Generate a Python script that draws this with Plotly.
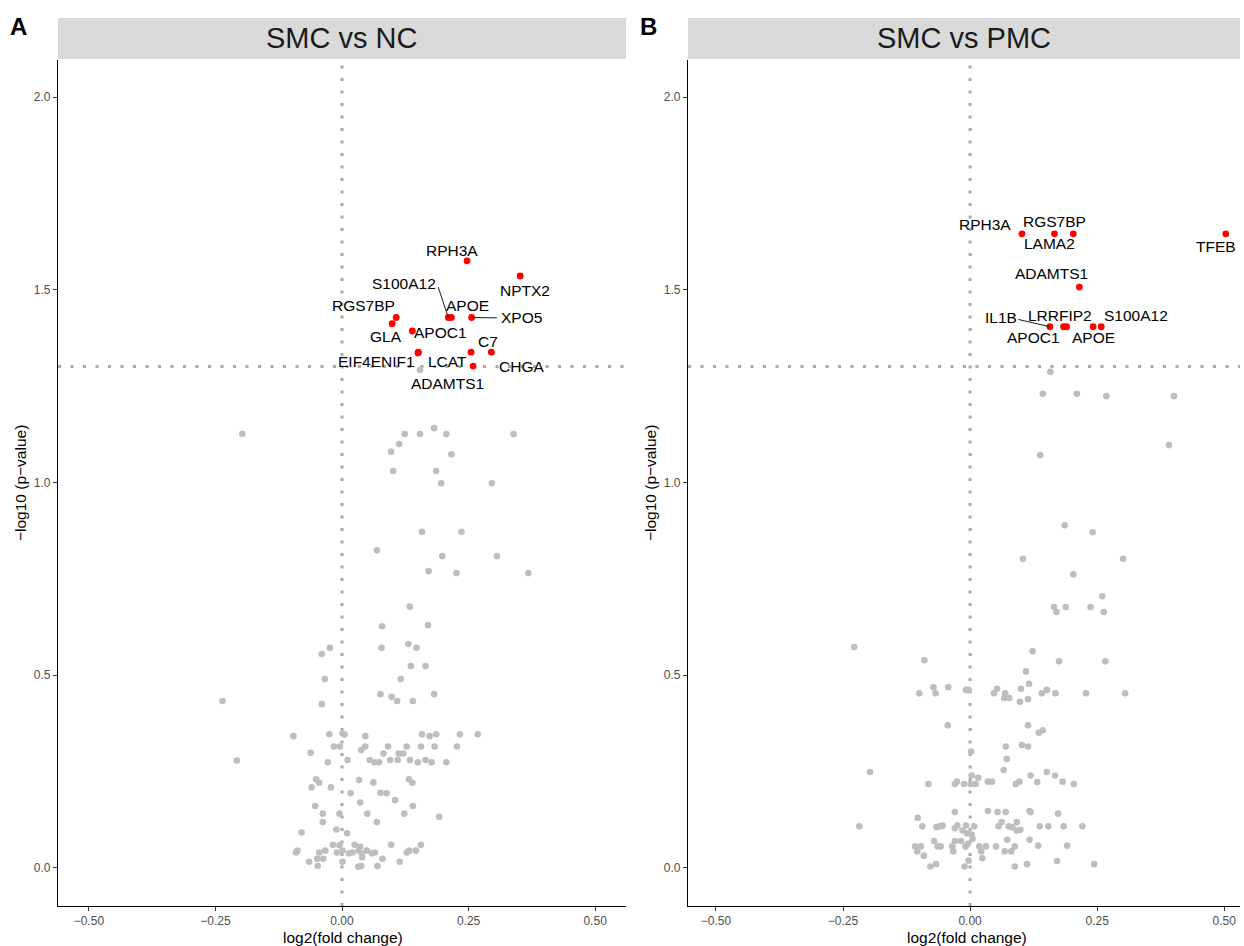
import math
import plotly.graph_objects as go

# ---------------- data ----------------
# Panel A: SMC vs NC -- non-significant genes (grey)
a_grey_x = [-0.197, 0.124, 0.154, 0.182, 0.206, 0.339, 0.113, 0.097, 0.216, 0.101, 0.186, 0.196, 0.296,
            0.158, 0.236, 0.069, 0.198, 0.306, 0.171, 0.226, 0.368, 0.134, 0.079, 0.170, -0.024, 0.078,
            0.131, 0.147, -0.040, 0.136, 0.165, -0.034, 0.116, -0.236, -0.040, 0.076, 0.098, 0.109, 0.140,
            0.182, -0.096, -0.025, 0.001, 0.005, 0.046, 0.158, 0.173, 0.186, 0.233, 0.268, -0.062, -0.016,
            -0.004, 0.038, 0.046, 0.082, 0.091, 0.112, 0.121, 0.128, 0.156, 0.183, 0.227, -0.208, -0.028,
            0.011, 0.055, 0.064, 0.073, 0.095, 0.110, 0.134, 0.150, 0.165, 0.177, 0.206, -0.051, -0.045,
            -0.060, -0.022, 0.034, 0.062, 0.132, 0.139, 0.017, 0.076, 0.088, 0.105, 0.036, -0.053, 0.140,
            -0.038, -0.005, 0.050, 0.123, 0.192, -0.038, 0.069, -0.080, -0.011, 0.010, -0.018, -0.005,
            0.025, 0.036, 0.097, 0.156, -0.091, -0.088, -0.045, -0.033, -0.010, 0.001, 0.014, 0.021,
            0.033, 0.039, 0.049, 0.059, 0.065, 0.128, 0.133, 0.146, -0.049, -0.037, 0.040, 0.080, -0.065,
            0.001, 0.114, -0.048, 0.032, 0.038, 0.070, 0.154]
a_grey_y = [1.126, 1.126, 1.126, 1.141, 1.126, 1.126, 1.100, 1.080, 1.073, 1.030, 1.030, 0.998, 0.998,
            0.872, 0.872, 0.824, 0.809, 0.809, 0.770, 0.765, 0.765, 0.678, 0.627, 0.630, 0.571, 0.571,
            0.581, 0.571, 0.555, 0.524, 0.524, 0.490, 0.490, 0.433, 0.425, 0.451, 0.444, 0.433, 0.433,
            0.451, 0.342, 0.347, 0.349, 0.346, 0.342, 0.347, 0.342, 0.347, 0.347, 0.347, 0.299, 0.315,
            0.315, 0.306, 0.315, 0.297, 0.315, 0.297, 0.297, 0.315, 0.315, 0.315, 0.315, 0.279, 0.274,
            0.280, 0.280, 0.274, 0.274, 0.280, 0.280, 0.280, 0.274, 0.280, 0.274, 0.274, 0.230, 0.221,
            0.209, 0.209, 0.228, 0.222, 0.230, 0.221, 0.194, 0.195, 0.194, 0.176, 0.170, 0.161, 0.161,
            0.141, 0.141, 0.141, 0.141, 0.133, 0.119, 0.119, 0.092, 0.100, 0.090, 0.060, 0.059,
            0.060, 0.055, 0.060, 0.060, 0.040, 0.045, 0.040, 0.045, 0.040, 0.045, 0.038, 0.040,
            0.045, 0.038, 0.045, 0.038, 0.040, 0.040, 0.045, 0.045, 0.024, 0.024, 0.028, 0.024, 0.016,
            0.016, 0.016, 0.005, 0.003, 0.005, 0.005, 1.292]

# Panel A: significant genes (red)
a_sig_genes = ["RPH3A", "NPTX2", "S100A12", "APOE", "XPO5", "RGS7BP", "GLA", "APOC1",
               "EIF4ENIF1", "LCAT", "C7", "CHGA", "ADAMTS1"]
a_sig_x = [0.247, 0.352, 0.210, 0.216, 0.256, 0.107, 0.099, 0.139, 0.151, 0.150, 0.255, 0.295, 0.259]
a_sig_y = [1.575, 1.536, 1.428, 1.428, 1.428, 1.428, 1.412, 1.393, 1.338, 1.336, 1.338, 1.338, 1.302]

# Panel B: SMC vs PMC -- non-significant genes (grey)
b_grey_x = [0.158, 0.143, 0.210, 0.268, 0.401, 0.391, 0.138, 0.186, 0.241, 0.104, 0.301, 0.203, 0.260,
            0.165, 0.188, 0.237, 0.170, 0.263, -0.228, 0.123, -0.090, 0.175, 0.266, 0.110, 0.116, -0.072,
            -0.043, -0.008, -0.003, 0.053, 0.100, -0.100, -0.068, 0.047, 0.069, 0.067, 0.077, 0.098, 0.114,
            0.141, 0.151, 0.168, 0.228, 0.305, -0.044, 0.114, 0.135, 0.143, 0.070, 0.102, 0.114, 0.002,
            0.072, -0.197, 0.066, 0.003, 0.016, 0.119, 0.151, 0.167, -0.082, -0.030, -0.026, -0.012, 0.001,
            0.011, 0.035, 0.043, 0.090, 0.097, 0.132, 0.182, 0.204, -0.030, 0.035, 0.054, 0.070, 0.117,
            0.119, 0.173, -0.103, -0.218, -0.094, -0.066, -0.060, -0.054, -0.030, -0.025, -0.008, 0.008,
            -0.015, -0.006, 0.003, 0.005, 0.056, 0.062, 0.076, 0.083, 0.092, 0.092, 0.099, 0.137, 0.154,
            0.184, 0.221, -0.108, -0.097, -0.104, -0.071, -0.064, -0.058, -0.035, -0.033, -0.030, -0.018,
            -0.009, -0.004, 0.018, 0.022, 0.031, 0.051, 0.068, 0.073, 0.081, 0.088, 0.117, 0.134, 0.191,
            -0.091, 0.024, -0.003, -0.078, -0.067, -0.011, 0.088, 0.112, 0.171, 0.244]
b_grey_y = [1.287, 1.230, 1.230, 1.224, 1.224, 1.097, 1.071, 0.889, 0.871, 0.802, 0.802, 0.762, 0.705,
            0.677, 0.677, 0.677, 0.664, 0.664, 0.573, 0.562, 0.539, 0.536, 0.536, 0.510, 0.478, 0.469,
            0.469, 0.462, 0.462, 0.465, 0.465, 0.453, 0.453, 0.453, 0.453, 0.441, 0.441, 0.431, 0.438,
            0.453, 0.462, 0.453, 0.453, 0.453, 0.370, 0.370, 0.351, 0.357, 0.315, 0.319, 0.315, 0.302,
            0.283, 0.249, 0.254, 0.240, 0.234, 0.240, 0.249, 0.240, 0.218, 0.218, 0.224, 0.218, 0.218,
            0.218, 0.224, 0.224, 0.218, 0.224, 0.223, 0.224, 0.218, 0.145, 0.148, 0.145, 0.145, 0.148,
            0.145, 0.141, 0.130, 0.108, 0.108, 0.106, 0.108, 0.110, 0.103, 0.110, 0.110, 0.108,
            0.097, 0.090, 0.087, 0.076, 0.108, 0.119, 0.108, 0.106, 0.119, 0.097, 0.099, 0.108, 0.108,
            0.108, 0.108, 0.056, 0.056, 0.043, 0.070, 0.056, 0.056, 0.056, 0.043, 0.070, 0.070,
            0.056, 0.063, 0.056, 0.043, 0.056, 0.056, 0.043, 0.073, 0.043, 0.056, 0.073, 0.058, 0.058,
            0.032, 0.025, 0.019, 0.004, 0.010, 0.004, 0.004, 0.010, 0.018, 0.010]

# Panel B: significant genes (red)
b_sig_genes = ["RPH3A", "LAMA2", "RGS7BP", "TFEB", "ADAMTS1", "IL1B", "APOC1", "LRRFIP2", "APOE", "S100A12"]
b_sig_x = [0.102, 0.166, 0.203, 0.503, 0.215, 0.157, 0.184, 0.190, 0.242, 0.258]
b_sig_y = [1.645, 1.645, 1.645, 1.645, 1.507, 1.404, 1.404, 1.404, 1.404, 1.404]

panel_titles = ["SMC vs NC", "SMC vs PMC"]
panel_tags = ["A", "B"]
x_tick_vals = [-0.5, -0.25, 0.0, 0.25, 0.5]
x_tick_text = ["\u22120.50", "\u22120.25", "0.00", "0.25", "0.50"]
y_tick_vals = [0.0, 0.5, 1.0, 1.5, 2.0]
y_tick_text = ["0.0", "0.5", "1.0", "1.5", "2.0"]
p_cutoff = 0.05

# ---------------- layout / style (positions of repelled labels) ----------------
a_label_pos = {"RPH3A": (0.217, 1.603), "NPTX2": (0.362, 1.499), "S100A12": (0.123, 1.515),
               "APOE": (0.247, 1.458), "RGS7BP": (0.042, 1.458), "XPO5": (0.354, 1.427),
               "GLA": (0.087, 1.380), "APOC1": (0.194, 1.390), "C7": (0.289, 1.367),
               "EIF4ENIF1": (0.069, 1.315), "LCAT": (0.208, 1.315), "CHGA": (0.354, 1.302),
               "ADAMTS1": (0.209, 1.258)}
a_segments = {"S100A12": (0.190, 1.507), "XPO5": (0.306, 1.427)}
b_label_pos = {"RPH3A": (0.030, 1.668), "RGS7BP": (0.167, 1.677), "LAMA2": (0.156, 1.619),
               "TFEB": (0.484, 1.612), "ADAMTS1": (0.161, 1.541), "IL1B": (0.061, 1.429),
               "LRRFIP2": (0.177, 1.434), "S100A12": (0.327, 1.434), "APOC1": (0.124, 1.375),
               "APOE": (0.242, 1.375)}
b_segments = {"IL1B": (0.095, 1.423)}

W, H = 1244, 946
FONT = "Liberation Sans, Arial, Helvetica, sans-serif"
GREY_PT = "#BEBEBE"
RED_PT = "#FF0000"
DOT_LINE = "#A9A9A9"

def px_x(p):
    return p / W

def px_y(p):
    return 1 - p / H

dom_a = [px_x(58), px_x(626)]
dom_b = [px_x(688), px_x(1240)]
dom_y = [px_y(906), px_y(60)]
yrange = [-0.0986, 2.096]

fig = go.Figure()

panels = [
    dict(gx=a_grey_x, gy=a_grey_y, sx=a_sig_x, sy=a_sig_y, genes=a_sig_genes,
         lpos=a_label_pos, segs=a_segments, xa="x", ya="y", dom=dom_a, xr=[-0.561, 0.561]),
    dict(gx=b_grey_x, gy=b_grey_y, sx=b_sig_x, sy=b_sig_y, genes=b_sig_genes,
         lpos=b_label_pos, segs=b_segments, xa="x2", ya="y2", dom=dom_b, xr=[-0.555, 0.531]),
]

annotations = []
shapes = []
axis_common = dict(showgrid=False, zeroline=False, showline=True, linecolor="black", linewidth=1.1,
                   ticks="outside", ticklen=4, tickwidth=1.1, tickcolor="#333333",
                   tickfont=dict(family=FONT, size=12, color="#4D4D4D"), automargin=False)

hline = -math.log10(p_cutoff)

for i, p in enumerate(panels):
    fig.add_trace(go.Scatter(x=p["gx"], y=p["gy"], mode="markers", xaxis=p["xa"], yaxis=p["ya"],
                             marker=dict(color=GREY_PT, size=6.6), hoverinfo="skip", showlegend=False))
    fig.add_trace(go.Scatter(x=p["sx"], y=p["sy"], mode="markers", xaxis=p["xa"], yaxis=p["ya"],
                             marker=dict(color=RED_PT, size=6.8), text=p["genes"], showlegend=False))
    sfx = "" if i == 0 else "2"
    fig.update_layout(**{
        "xaxis" + sfx: dict(domain=p["dom"], range=p["xr"], anchor="y" + sfx,
                            tickvals=x_tick_vals, ticktext=x_tick_text, **axis_common),
        "yaxis" + sfx: dict(domain=dom_y, range=yrange, anchor="x" + sfx,
                            tickvals=y_tick_vals, ticktext=y_tick_text, **axis_common),
    })
    # dotted reference lines
    shapes.append(dict(type="line", xref=p["xa"], yref=p["ya"] + " domain", x0=0, x1=0, y0=0, y1=1,
                       line=dict(color=DOT_LINE, width=3, dash="3px,9.5px"), layer="below"))
    shapes.append(dict(type="line", xref=p["xa"] + " domain", yref=p["ya"], x0=0, x1=1, y0=hline, y1=hline,
                       line=dict(color=DOT_LINE, width=3, dash="3px,9.5px"), layer="below"))
    # facet strip
    shapes.append(dict(type="rect", xref="paper", yref="paper", x0=p["dom"][0], x1=p["dom"][1],
                       y0=px_y(59), y1=px_y(18), fillcolor="#D9D9D9", line=dict(width=0)))
    annotations.append(dict(text=panel_titles[i], xref="paper", yref="paper",
                            x=(p["dom"][0] + p["dom"][1]) / 2, y=px_y(38.5), showarrow=False,
                            xanchor="center", yanchor="middle",
                            font=dict(family=FONT, size=29, color="#1A1A1A")))
    # panel tag
    annotations.append(dict(text="<b>" + panel_tags[i] + "</b>", xref="paper", yref="paper",
                            x=px_x(18 if i == 0 else 648), y=px_y(27), showarrow=False,
                            xanchor="center", yanchor="middle",
                            font=dict(family=FONT, size=24, color="black")))
    # axis titles
    annotations.append(dict(text="log2(fold change)", xref="paper", yref="paper",
                            x=px_x(343 if i == 0 else 967), y=px_y(937), showarrow=False,
                            xanchor="center", yanchor="middle",
                            font=dict(family=FONT, size=15.5, color="black")))
    annotations.append(dict(text="\u2212log10 (p\u2212value)", xref="paper", yref="paper",
                            x=px_x(20 if i == 0 else 650), y=px_y(483), showarrow=False, textangle=-90,
                            xanchor="center", yanchor="middle",
                            font=dict(family=FONT, size=15.5, color="black")))
    # gene labels
    for g, gx, gy in zip(p["genes"], p["sx"], p["sy"]):
        lx, ly = p["lpos"][g]
        annotations.append(dict(text=g, x=lx, y=ly, xref=p["xa"], yref=p["ya"], showarrow=False,
                                xanchor="center", yanchor="middle",
                                font=dict(family=FONT, size=15.5, color="black")))
        if g in p["segs"]:
            sx0, sy0 = p["segs"][g]
            shapes.append(dict(type="line", xref=p["xa"], yref=p["ya"], x0=sx0, y0=sy0, x1=gx, y1=gy,
                               line=dict(color="black", width=0.9)))

fig.update_layout(width=W, height=H, margin=dict(l=0, r=0, t=0, b=0),
                  paper_bgcolor="white", plot_bgcolor="white",
                  shapes=shapes, annotations=annotations, showlegend=False)

fig.write_html("out.html", config={"displayModeBar": False},
               post_script="document.body.style.margin='0px';")
